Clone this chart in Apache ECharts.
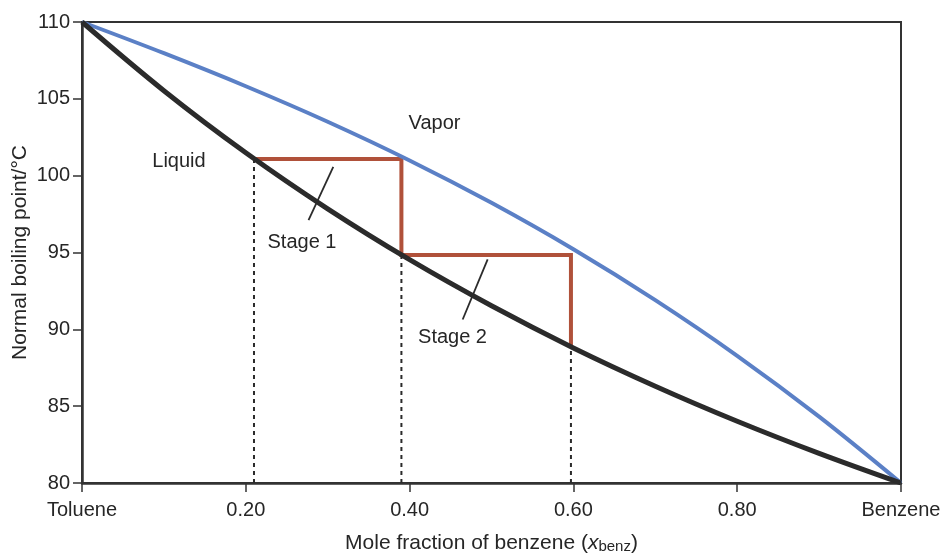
<!DOCTYPE html>
<html>
<head>
<meta charset="utf-8">
<script src="https://cdn.jsdelivr.net/npm/echarts@6/dist/echarts.min.js"></script>
<style>
html,body{margin:0;padding:0;background:#fff;}
#chart{width:945px;height:557px;}
</style>
</head>
<body>
<div id="chart"></div>
<script>
// ---- data ----
const xTickValues = [0, 0.2, 0.4, 0.6, 0.8, 1];
const xTickLabels = ['Toluene', '0.20', '0.40', '0.60', '0.80', 'Benzene'];
const yTicks = [80, 85, 90, 95, 100, 105, 110];

// boiling-point curves read at x = 0, 0.1, ..., 1
const curveX = [0, 0.1, 0.2, 0.3, 0.4, 0.5, 0.6, 0.7, 0.8, 0.9, 1];
const liquidT = [110, 105.53, 101.49, 97.84, 94.53, 91.53, 88.79, 86.30, 84.02, 81.93, 80];
const vaporT = [110, 107.97, 105.82, 103.51, 100.99, 98.23, 95.21, 91.90, 88.28, 84.32, 80];

// stage construction (x, T)
const stageX = [0.21, 0.39, 0.39, 0.597, 0.597];
const stageT = [101.08, 101.08, 94.84, 94.84, 88.87];

// dotted drop lines: x and top temperature
const dropX = [0.21, 0.39, 0.597];
const dropTop = [101.08, 94.84, 88.87];

// annotation labels
const labelText = ['Liquid', 'Vapor', 'Stage 1', 'Stage 2'];
const labelX = [0.1184, 0.4304, 0.2686, 0.4524];
const labelT = [100.95, 103.4, 95.65, 89.5];

// leader lines for stage labels [x1,T1,x2,T2]
const leader1 = [0.3068, 100.58, 0.2766, 97.11];
const leader2 = [0.4953, 94.55, 0.4648, 90.64];

// ---- build ----
const FONT = 'Liberation Sans, Arial, Helvetica, sans-serif';
const TXT = '#262626';
const zip = (a, b) => a.map((v, i) => [v, b[i]]);
const series = [];

dropX.forEach((x, i) => {
  series.push({
    type: 'line', data: [[x, yTicks[0]], [x, dropTop[i]]],
    symbol: 'none', silent: true, z: 1,
    lineStyle: { color: '#2b2b2b', width: 2, type: [4, 4] }
  });
});

series.push({
  type: 'line', data: zip(stageX, stageT), symbol: 'none', z: 2,
  lineStyle: { color: '#b0513a', width: 4, join: 'miter', cap: 'butt' }
});
series.push({
  type: 'line', data: zip(curveX, vaporT), symbol: 'none', smooth: 0.35, z: 3,
  lineStyle: { color: '#5b80c6', width: 4 }
});
series.push({
  type: 'line', data: zip(curveX, liquidT), symbol: 'none', smooth: 0.35, z: 4,
  lineStyle: { color: '#2b2b2b', width: 5 }
});
[leader1, leader2].forEach(l => {
  series.push({
    type: 'line', data: [[l[0], l[1]], [l[2], l[3]]], symbol: 'none', z: 5,
    lineStyle: { color: '#2b2b2b', width: 1.8 }
  });
});
series.push({
  type: 'scatter', symbolSize: 1, z: 6, itemStyle: { color: 'rgba(255,255,255,0)' },
  data: labelText.map((t, i) => ({ value: [labelX[i], labelT[i]], name: t })),
  label: {
    show: true, position: 'inside', align: 'center', verticalAlign: 'middle',
    formatter: p => p.name, opacity: 1, textBorderWidth: 0,
    color: TXT, fontSize: 20, fontFamily: FONT
  },
  emphasis: { disabled: true }
});

const chart = echarts.init(document.getElementById('chart'), null, { renderer: 'canvas' });
chart.setOption({
  animation: false,
  backgroundColor: '#fff',
  grid: {
    left: 82, right: 44, top: 22, bottom: 74, containLabel: false, outerBoundsMode: 'none',
    show: true, borderColor: '#333', borderWidth: 2
  },
  xAxis: {
    type: 'value', min: xTickValues[0], max: xTickValues[xTickValues.length - 1], interval: 0.2,
    splitLine: { show: false },
    axisLine: { lineStyle: { color: '#333', width: 2.5 } },
    axisTick: { show: true, length: 9, lineStyle: { color: '#333', width: 1.5 } },
    axisLabel: {
      margin: 17, color: TXT, fontSize: 20, fontFamily: FONT, hideOverlap: false,
      formatter: v => { const i = xTickValues.findIndex(t => Math.abs(t - v) < 1e-9); return i >= 0 ? xTickLabels[i] : ''; }
    },
    name: 'Mole fraction of benzene ({i|x}{sub|benz})',
    nameLocation: 'middle', nameGap: 49, nameMoveOverlap: false,
    nameTextStyle: {
      color: TXT, fontSize: 21, fontFamily: FONT,
      rich: {
        i: { fontStyle: 'italic', fontSize: 21, color: TXT, fontFamily: FONT },
        sub: { fontSize: 15, color: TXT, verticalAlign: 'bottom', padding: [7, 0, 0, 0], fontFamily: FONT }
      }
    }
  },
  yAxis: {
    type: 'value', min: yTicks[0], max: yTicks[yTicks.length - 1], interval: 5,
    splitLine: { show: false },
    axisLine: { show: true, lineStyle: { color: '#333', width: 2.5 } },
    axisTick: { show: true, length: 9, lineStyle: { color: '#333', width: 1.5 } },
    axisLabel: { margin: 12, color: TXT, fontSize: 20, fontFamily: FONT },
    name: 'Normal boiling point/°C',
    nameLocation: 'middle', nameGap: 51, nameMoveOverlap: false,
    nameTextStyle: { color: TXT, fontSize: 21, fontFamily: FONT }
  },
  series: series
});
</script>
</body>
</html>
